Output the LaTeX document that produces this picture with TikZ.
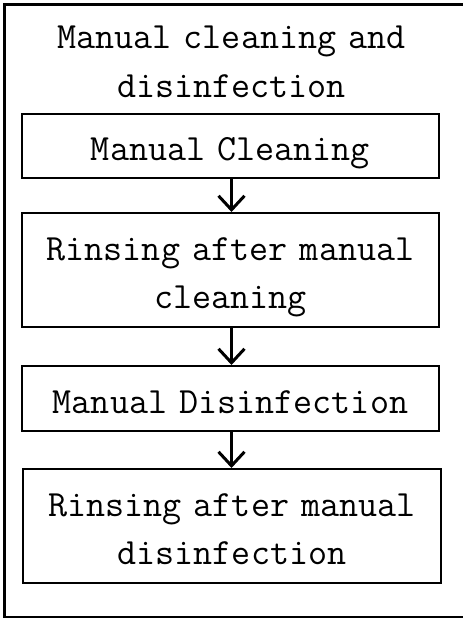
\documentclass[tikz,border=0pt]{standalone}
\usetikzlibrary{arrows.meta}
\begin{document}
\begin{tikzpicture}[x=1pt,y=-1pt,
  txt/.style={font=\ttfamily\fontsize{37pt}{48pt}\selectfont},
  stepbox/.style={txt,draw=black,line width=1.8pt,rectangle,inner sep=0pt,
    minimum width=417pt,text width=417pt,align=center,text height=47pt},
  flow/.style={line width=3pt,-{Straight Barb[length=14pt,width=26pt,line width=3pt]}}]
\useasboundingbox (0,0) rectangle (463,619);
\begin{scope}
\clip (0,0) rectangle (463,619);
\draw[line width=2.5pt] (4.5,4.5) rectangle (475,617);
\end{scope}
\node[txt,anchor=base,text width=440pt,align=center,inner sep=0pt,font=\ttfamily\fontsize{37pt}{49pt}\selectfont] (title) at (231.5,48) {Manual cleaning and\\disinfection};
\node[stepbox,anchor=north,text depth=17pt] (b1) at (230.5,113) {Manual Cleaning};
\node[stepbox,anchor=north,text height=48pt,text depth=66pt] (b2) at (230.5,212) {Rinsing after manual\\cleaning};
\node[stepbox,anchor=north,text height=48pt,text depth=17pt] (b3) at (230.5,365) {Manual Disinfection};
\node[stepbox,anchor=north,minimum width=418pt,text width=418pt,text height=48pt,text depth=66pt] (b4) at (232,468) {Rinsing after manual\\disinfection};
\draw[flow] (b1.south -| 231.5,0) -- (b2.north -| 231.5,0);
\draw[flow] (b2.south -| 231.5,0) -- (b3.north -| 231.5,0);
\draw[flow] (b3.south -| 231.5,0) -- (b4.north -| 231.5,0);
\end{tikzpicture}
\end{document}
